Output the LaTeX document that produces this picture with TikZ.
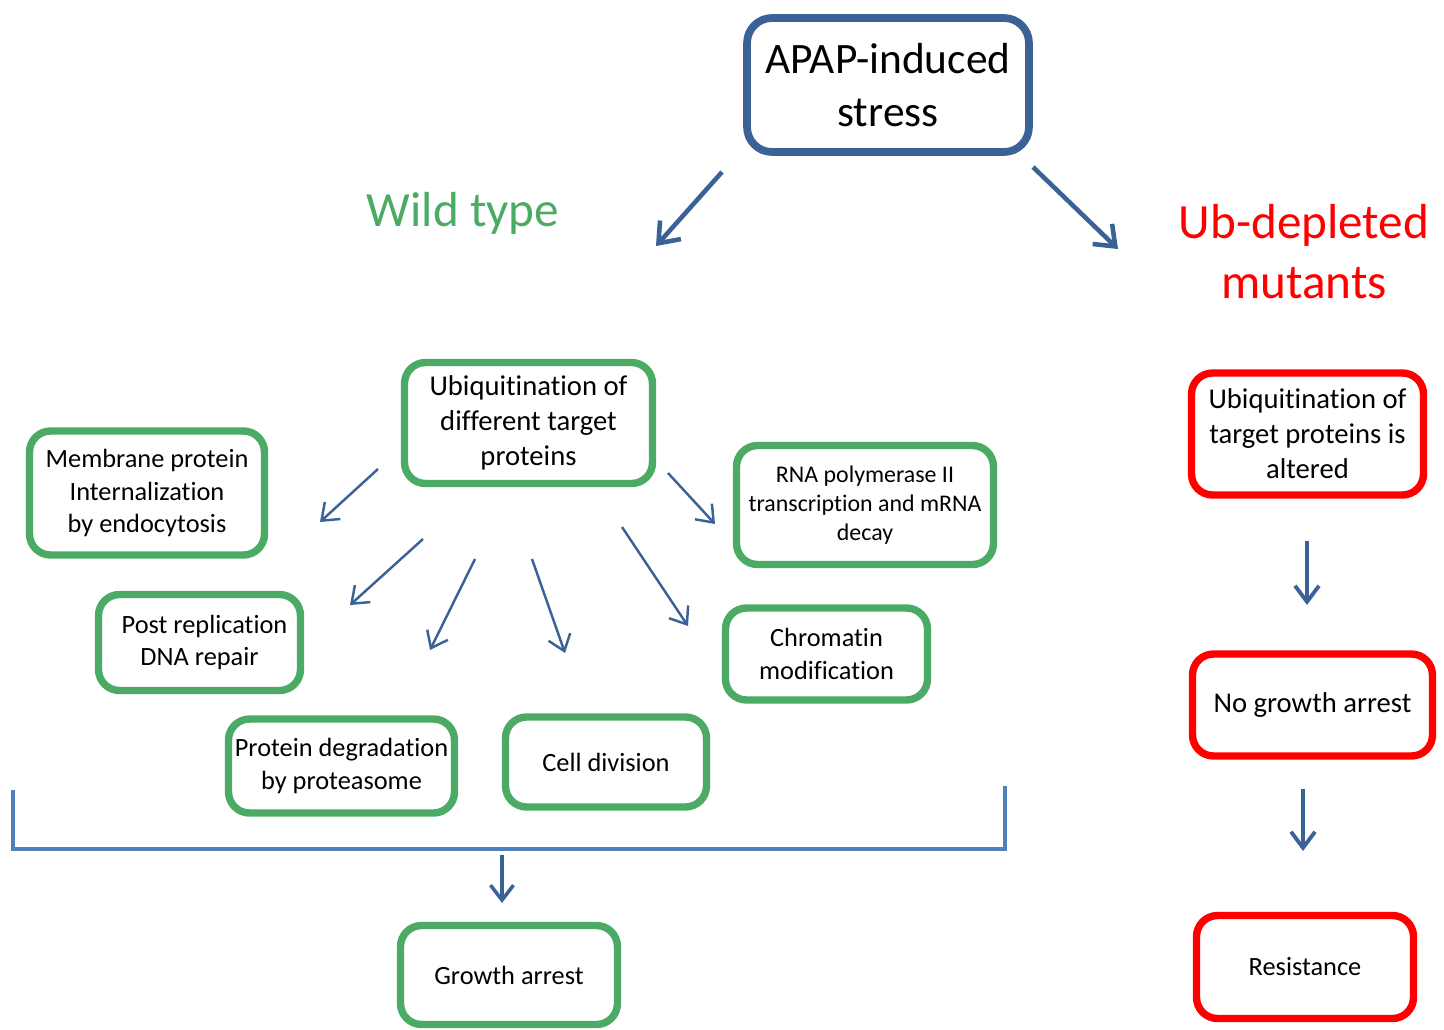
\documentclass[tikz,border=0pt]{standalone}
\usepackage{fontspec}
\setmainfont[Ligatures=NoCommon]{Carlito}
\usetikzlibrary{arrows.meta}

\definecolor{boxgreen}{RGB}{75,170,99}
\definecolor{arrowblue}{RGB}{58,98,150}
\definecolor{bracketblue}{RGB}{79,129,189}
\definecolor{mutred}{RGB}{255,0,0}

\tikzset{
	gbox/.style={draw=boxgreen, line width=4.2pt, rounded corners=0.42cm, align=center, inner sep=2pt, font=\fontsize{15}{18.3}\selectfont},
	rbox/.style={draw=mutred, line width=4.2pt, rounded corners=0.42cm, align=center, inner sep=2pt, font=\fontsize{16.3}{19.9}\selectfont},
	thinarrow/.style={draw=arrowblue, line width=1.4pt, -{Straight Barb[length=0.3cm,width=0.46cm]}},
	bigarrow/.style={draw=arrowblue, line width=2.6pt, -{Straight Barb[length=0.36cm,width=0.56cm]}}
}

\begin{document}
\begin{tikzpicture}[x=0.02cm, y=-0.02cm]
		\useasboundingbox (0,0) rectangle (1444,1029);
		% top box and the two branch titles
		\node[draw=arrowblue, line width=4.4pt, rounded corners=0.5cm, align=center, minimum width=5.64cm, minimum height=2.68cm, font=\fontsize{24.7}{30}\selectfont] (stress) at (888,85) {APAP-induced\\stress};
		\node[text=boxgreen, font=\fontsize{28}{34}\selectfont] (wild) at (463,213) {Wild type};
		\node[text=mutred, align=center, font=\fontsize{28}{34.2}\selectfont] (mutant) at (1304,252) {Ub-depleted\\mutants};
		\coordinate (wstart) at (722,172);
		\coordinate (wend) at (656,246);
		\coordinate (mstart) at (1033,167);
		\coordinate (mend) at (1118,249);
		\draw[bigarrow] (wstart) -- (wend);
		\draw[bigarrow] (mstart) -- (mend);

		% wild type boxes
		\node[gbox, minimum width=4.96cm, minimum height=2.42cm, font=\fontsize{16.3}{19.9}\selectfont] (ubq) at (528.5,423) {Ubiquitination of\\different target\\proteins};
		\node[gbox, minimum width=4.70cm, minimum height=2.48cm] (membrane) at (147,493) {Membrane protein\\Internalization\\by endocytosis};
		\node[gbox, minimum width=5.14cm, minimum height=2.38cm, font=\fontsize{13.6}{16.6}\selectfont] (rnapol) at (865,505) {RNA polymerase II\\transcription and mRNA\\decay};
		\node[gbox, minimum width=4.04cm, minimum height=1.92cm] (dnarepair) at (199.5,642.5) {\hspace{0.2cm}Post replication\\DNA repair};
		\node[gbox, minimum width=4.04cm, minimum height=1.84cm] (chromatin) at (826.5,654) {Chromatin\\modification};
		\node[gbox, minimum width=4.52cm, minimum height=1.88cm] (degrade) at (341.5,766) {Protein degradation\\by proteasome};
		\node[gbox, minimum width=4.02cm, minimum height=1.80cm] (division) at (606,762) {Cell division};
		\node[gbox, minimum width=4.34cm, minimum height=1.98cm] (growth) at (509,975) {Growth arrest};

		% arrows spreading from the ubiquitination box
		\foreach \name/\sx/\sy/\ex/\ey in {a/378/469/320/522, b/423/539/350/605, c/475/559/430/650, d/532/559/565/653, e/622/527/688/626, f/668/473/715/524} {
			\coordinate (\name s) at (\sx,\sy);
			\coordinate (\name e) at (\ex,\ey);
			\draw[thinarrow] (\name s) -- (\name e);
		}

		% bracket and arrow to growth arrest
		\coordinate (bl) at (13,790);
		\coordinate (br) at (1005,786);
		\coordinate (bmid) at (502,855);
		\coordinate (bend) at (502,903);
		\draw[bracketblue, line width=2pt] (bl) -- (13,849) -- (1005,849) -- (br);
		\draw[arrowblue, line width=2pt, -{Straight Barb[length=0.3cm,width=0.46cm]}] (bmid) -- (bend);

		% mutant column
		\node[rbox, minimum width=4.64cm, minimum height=2.44cm] (altered) at (1307.5,434) {Ubiquitination of\\target proteins is\\altered};
		\node[rbox, minimum width=4.80cm, minimum height=2.04cm] (nogrowth) at (1312.5,705) {No growth arrest};
		\node[rbox, minimum width=4.34cm, minimum height=2.06cm, font=\fontsize{15}{18.3}\selectfont] (resist) at (1305,967) {Resistance};
		\coordinate (r1s) at (1307,541);
		\coordinate (r1e) at (1307,605);
		\coordinate (r2s) at (1303,789);
		\coordinate (r2e) at (1303,851);
		\draw[arrowblue, line width=2.2pt, -{Straight Barb[length=0.32cm,width=0.48cm]}] (r1s) -- (r1e);
		\draw[arrowblue, line width=2.2pt, -{Straight Barb[length=0.32cm,width=0.48cm]}] (r2s) -- (r2e);
	\end{tikzpicture}
\end{document}
